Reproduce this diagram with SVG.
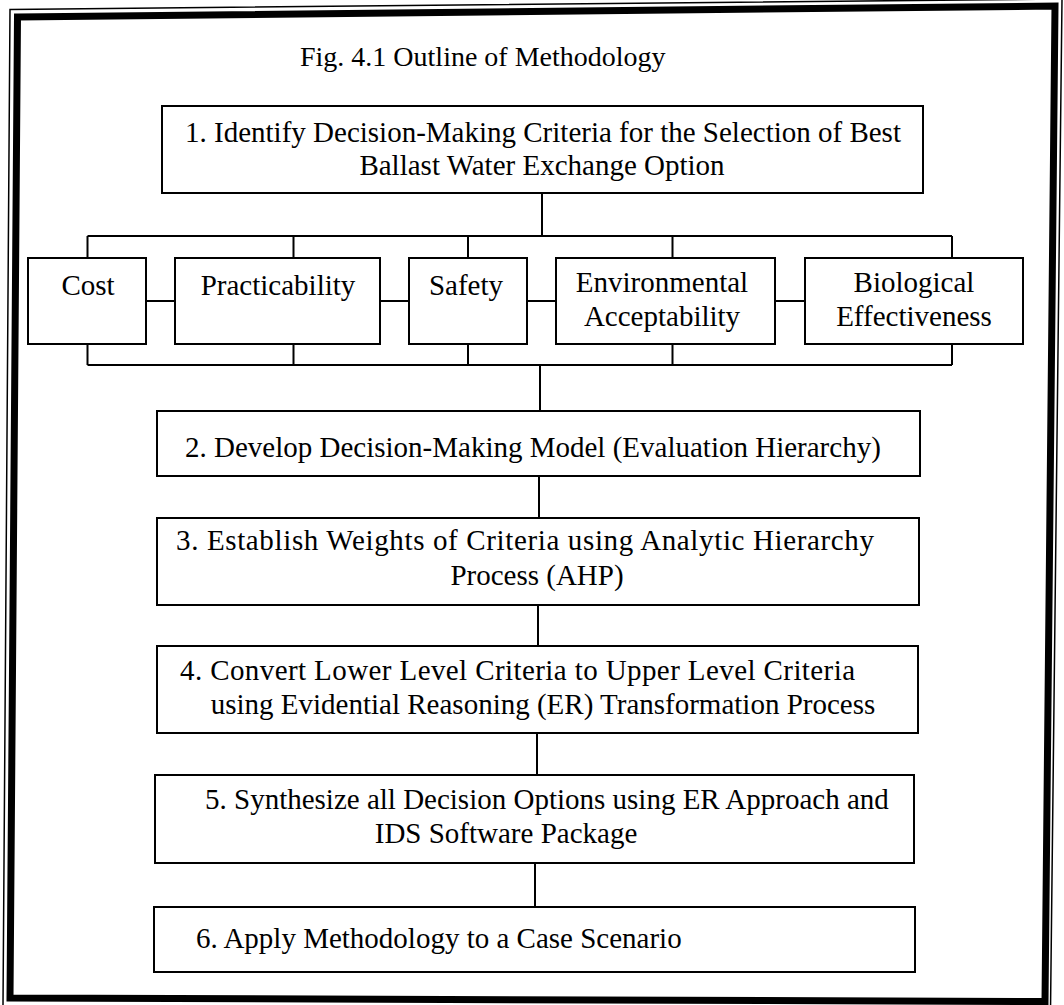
<svg xmlns="http://www.w3.org/2000/svg" width="1064" height="1005" viewBox="0 0 1064 1005">
  <style>
    .box { fill: #fff; stroke: #000; stroke-width: 2; }
    .lbl { font-family: "Liberation Serif", "Times New Roman", serif; font-size: 29px; fill: #000; }
    .mid { text-anchor: middle; }
    .wire { stroke: #000; stroke-width: 2; fill: none; }
  </style>

  <rect width="1064" height="1005" fill="#fff"/>

  <!-- double page frame: thin outer rule, heavy inner rule -->
  <g id="frame" fill="none" stroke="#000" stroke-linejoin="miter">
    <polygon points="10,9.5 1062,-1 1050.5,1010 3,1006" stroke-width="1.5"/>
    <polygon points="17.5,17 1055,6 1045,1001.5 10,998" stroke-width="7"/>
  </g>

  <text id="title" class="lbl" x="300" y="66" style="font-size:28px">Fig. 4.1 Outline of Methodology</text>

  <!-- connectors -->
  <g id="connectors" class="wire">
    <path d="M542,193 V236"/>
    <path d="M87.5,236 H952"/>
    <path d="M87.5,236 V258 M293.5,236 V258 M468,236 V258 M672.5,236 V258 M952,236 V258"/>
    <path d="M146,301 H175 M380,301 H409 M527,301 H556 M775,301 H805"/>
    <path d="M87.5,344 V365 M293.5,344 V365 M468,344 V365 M672.5,344 V365 M952,344 V365"/>
    <path d="M87.5,365 H952"/>
    <path d="M540,365 V411"/>
    <path d="M539,476 V518"/>
    <path d="M538,605 V646"/>
    <path d="M537,733 V775"/>
    <path d="M535,863 V907"/>
  </g>

  <g id="step1">
    <rect class="box" x="162" y="106" width="761" height="87"/>
    <text class="lbl mid" x="543" y="142">1. Identify Decision-Making Criteria for the Selection of Best</text>
    <text class="lbl mid" x="542" y="175">Ballast Water Exchange Option</text>
  </g>

  <g id="cost">
    <rect class="box" x="28" y="258" width="118" height="86"/>
    <text class="lbl mid" x="88" y="295">Cost</text>
  </g>
  <g id="practicability">
    <rect class="box" x="175" y="258" width="205" height="86"/>
    <text class="lbl mid" x="278" y="295">Practicability</text>
  </g>
  <g id="safety">
    <rect class="box" x="409" y="258" width="118" height="86"/>
    <text class="lbl mid" x="466" y="295">Safety</text>
  </g>
  <g id="environmental">
    <rect class="box" x="556" y="258" width="219" height="86"/>
    <text class="lbl mid" x="662" y="292">Environmental</text>
    <text class="lbl mid" x="662" y="326">Acceptability</text>
  </g>
  <g id="biological">
    <rect class="box" x="805" y="258" width="218" height="86"/>
    <text class="lbl mid" x="914" y="292">Biological</text>
    <text class="lbl mid" x="914" y="326">Effectiveness</text>
  </g>

  <g id="step2">
    <rect class="box" x="157" y="411" width="763" height="65"/>
    <text class="lbl" x="185" y="457">2. Develop Decision-Making Model (Evaluation Hierarchy)</text>
  </g>

  <g id="step3">
    <rect class="box" x="157" y="518" width="762" height="87"/>
    <text class="lbl" x="176" y="550" textLength="698" lengthAdjust="spacing">3. Establish Weights of Criteria using Analytic Hierarchy</text>
    <text class="lbl mid" x="537" y="585">Process (AHP)</text>
  </g>

  <g id="step4">
    <rect class="box" x="157" y="646" width="761" height="87"/>
    <text class="lbl" x="180" y="680" textLength="675" lengthAdjust="spacing">4. Convert Lower Level Criteria to Upper Level Criteria</text>
    <text class="lbl mid" x="543" y="714">using Evidential Reasoning (ER) Transformation Process</text>
  </g>

  <g id="step5">
    <rect class="box" x="155" y="775" width="759" height="88"/>
    <text class="lbl" x="205" y="809">5. Synthesize all Decision Options using ER Approach and</text>
    <text class="lbl mid" x="506" y="843">IDS Software Package</text>
  </g>

  <g id="step6">
    <rect class="box" x="154" y="907" width="761" height="65"/>
    <text class="lbl" x="196" y="948">6. Apply Methodology to a Case Scenario</text>
  </g>
</svg>
